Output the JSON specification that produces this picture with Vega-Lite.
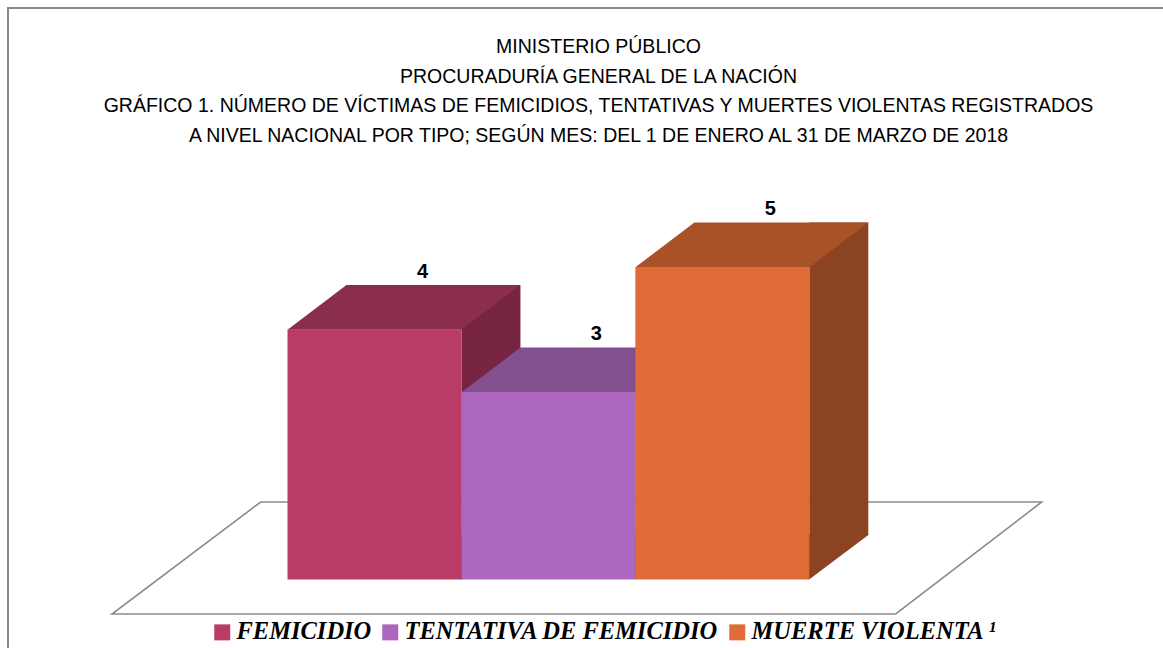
{
  "$schema": "https://vega.github.io/schema/vega-lite/v6.json",
  "autosize": {"type": "none"},
  "padding": {"left": 8, "top": 8, "right": -26, "bottom": -32},
  "width": 1181,
  "height": 672,
  "background": "white",
  "config": {"view": {"stroke": "#878787", "strokeWidth": 2}},
  "title": {
    "text": ["MINISTERIO PÚBLICO", "PROCURADURÍA GENERAL DE LA NACIÓN", "GRÁFICO 1. NÚMERO DE VÍCTIMAS DE FEMICIDIOS, TENTATIVAS Y MUERTES VIOLENTAS REGISTRADOS", "A NIVEL NACIONAL POR TIPO; SEGÚN MES: DEL 1 DE ENERO  AL  31 DE MARZO  DE 2018"],
    "anchor": "middle",
    "frame": "group",
    "font": "Liberation Sans",
    "fontSize": 19.5,
    "fontWeight": "normal",
    "color": "#000000",
    "lineHeight": 29.5,
    "baseline": "middle",
    "offset": 0,
    "dy": 147
  },
  "data": {
    "values": [
      {"tipo": "FEMICIDIO", "victimas": 4},
      {"tipo": "TENTATIVA DE FEMICIDIO", "victimas": 3},
      {"tipo": "MUERTE VIOLENTA ¹", "victimas": 5}
    ]
  },
  "encoding": {
    "x": {"field": "tipo", "type": "nominal", "axis": null,
      "scale": {"type": "band", "domain": ["FEMICIDIO", "TENTATIVA DE FEMICIDIO", "MUERTE VIOLENTA ¹"], "paddingInner": 0, "paddingOuter": 0, "range": [279.5, 801.3], "round": false}},
    "y": {"field": "victimas", "type": "quantitative", "axis": null,
      "scale": {"domain": [-1.608, 9.144], "nice": false, "zero": false}}
  },
  "layer": [
    {
      "transform": [{"filter": "datum.tipo === 'TENTATIVA DE FEMICIDIO'"}],
      "mark": {"type": "point", "filled": true, "opacity": 1, "size": 4, "fill": "#ffffff", "stroke": "#8c8c8c", "strokeWidth": 1.6,
        "shape": "M -436.4 34.5 L 347.3 34.5 L 493.3 -77.5 L -287.7 -77.5 Z"},
      "encoding": {"y": {"datum": 0}}
    },
    {
      "mark": {"type": "bar", "width": 59, "xOffset": 116.47, "yOffset": -44.5, "y2Offset": -44.5},
      "encoding": {
        "y2": {"datum": 0},
        "color": {"field": "tipo", "type": "nominal", "legend": null,
          "scale": {"domain": ["FEMICIDIO", "TENTATIVA DE FEMICIDIO", "MUERTE VIOLENTA ¹"], "range": ["#762441", "#6d4378", "#8b4322"]}}
      }
    },
    {
      "mark": {"type": "point", "filled": true, "opacity": 1, "size": 4, "strokeWidth": 0,
        "shape": "M 86.5 -45 L 86.5 0.3 L 146.6 -45 Z"},
      "encoding": {
        "y": {"datum": 0},
        "color": {"field": "tipo", "type": "nominal", "legend": null,
          "scale": {"domain": ["FEMICIDIO", "TENTATIVA DE FEMICIDIO", "MUERTE VIOLENTA ¹"], "range": ["#762441", "#6d4378", "#8b4322"]}}
      }
    },
    {
      "mark": {"type": "point", "filled": true, "opacity": 1, "size": 4, "strokeWidth": 0,
        "shape": "M -86.97 0.3 L 86.97 0.3 L 145.97 -44.5 L -27.97 -44.5 Z"},
      "encoding": {
        "color": {"field": "tipo", "type": "nominal", "legend": null,
          "scale": {"domain": ["FEMICIDIO", "TENTATIVA DE FEMICIDIO", "MUERTE VIOLENTA ¹"], "range": ["#8b2d4e", "#83508f", "#a95228"]}}
      }
    },
    {
      "mark": {"type": "bar"},
      "encoding": {
        "y2": {"datum": 0},
        "color": {"field": "tipo", "type": "nominal",
          "scale": {"domain": ["FEMICIDIO", "TENTATIVA DE FEMICIDIO", "MUERTE VIOLENTA ¹"], "range": ["#b83c66", "#ae67be", "#df6c37"]},
          "legend": {
            "title": null, "orient": "none", "direction": "horizontal", "legendX": 202, "legendY": 612,
            "symbolType": "square", "symbolSize": 256, "symbolStrokeWidth": 0, "symbolOpacity": 1,
            "labelFont": "Liberation Serif", "labelFontStyle": "italic", "labelFontWeight": "bold",
            "labelFontSize": 24.5, "labelColor": "#000000", "labelOffset": 2, "columnPadding": 6, "labelLimit": 0
          }
        }
      }
    },
    {
      "mark": {"type": "text", "dx": 48, "dy": -58, "font": "Liberation Sans", "fontSize": 20, "fontWeight": "bold", "color": "#000000", "baseline": "middle"},
      "encoding": {"text": {"field": "victimas", "type": "quantitative"}}
    }
  ],
  "resolve": {"scale": {"color": "independent"}}
}
